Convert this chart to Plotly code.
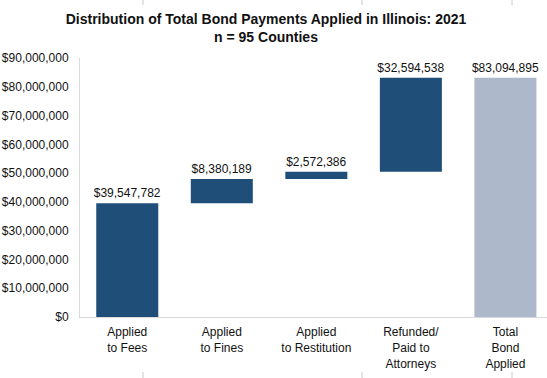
import plotly.graph_objects as go

categories = ["Applied<br>to Fees", "Applied<br>to Fines", "Applied<br>to Restitution",
              "Refunded/<br>Paid to<br>Attorneys", "Total<br>Bond<br>Applied"]
values = [39547782, 8380189, 2572386, 32594538, 83094895]
measures = ["relative", "relative", "relative", "relative", "total"]
y_ticks = list(range(0, 90000001, 10000000))

W, H = 547, 378
ml, mr, mt, mb = 80, 0, 58, 61

fig = go.Figure(go.Waterfall(
    x=categories,
    y=[v if m == "relative" else 0 for v, m in zip(values, measures)],
    measure=measures,
    text=["${:,.0f}".format(v) for v in values],
    textposition="outside",
    constraintext="none",
    textfont=dict(family="Liberation Sans, Arial", size=12, color="#111111"),
    increasing=dict(marker=dict(color="#1F4E79")),
    totals=dict(marker=dict(color="#ADB9CA")),
    connector=dict(visible=False),
    cliponaxis=False,
    hoverinfo="skip",
))

# faint decorative tick marks at top and bottom edges of the slide
pw = W - ml - mr
ph = H - mt - mb
shapes = []
for px in [143, 362, 512]:
    for (y0, y1) in [(0, 5), (372, 378)]:
        shapes.append(dict(type="line", xref="paper", yref="paper",
                           x0=(px - ml) / pw, x1=(px - ml) / pw,
                           y0=(H - mb - y0) / ph, y1=(H - mb - y1) / ph,
                           line=dict(color="#c8c8c8", width=1)))

fig.update_layout(
    width=W, height=H,
    margin=dict(l=ml, r=mr, t=mt, b=mb, pad=0, autoexpand=False),
    paper_bgcolor="white", plot_bgcolor="white",
    showlegend=False,
    waterfallgap=0.344,
    title=dict(text="<b>Distribution of Total Bond Payments Applied in Illinois: 2021<br>n = 95 Counties</b>",
               x=266 / W, xanchor="center", xref="container",
               y=1 - 24 / H, yanchor="top",
               font=dict(family="Liberation Sans, Arial", size=14, color="#111111")),
    font=dict(family="Liberation Sans, Arial", color="#111111"),
    shapes=shapes,
)
fig.update_yaxes(range=[0, 90000000], tickvals=y_ticks,
                 ticktext=["${:,.0f}".format(v) for v in y_ticks],
                 showgrid=False, zeroline=False, showline=True, linecolor="#d9d9d9",
                 linewidth=1, ticks="", ticklabelstandoff=8, automargin=False,
                 tickfont=dict(size=12, color="#111111"))
fig.update_xaxes(range=[-0.5, 4.44], showgrid=False, showline=True, linecolor="#d9d9d9",
                 linewidth=1, ticks="", tickangle=0, ticklabelstandoff=4, automargin=False,
                 tickfont=dict(size=12, color="#111111"))

fig.write_html("out.html", config={"displayModeBar": False},
               post_script="document.body.style.margin='0px';document.body.style.overflow='hidden';")
